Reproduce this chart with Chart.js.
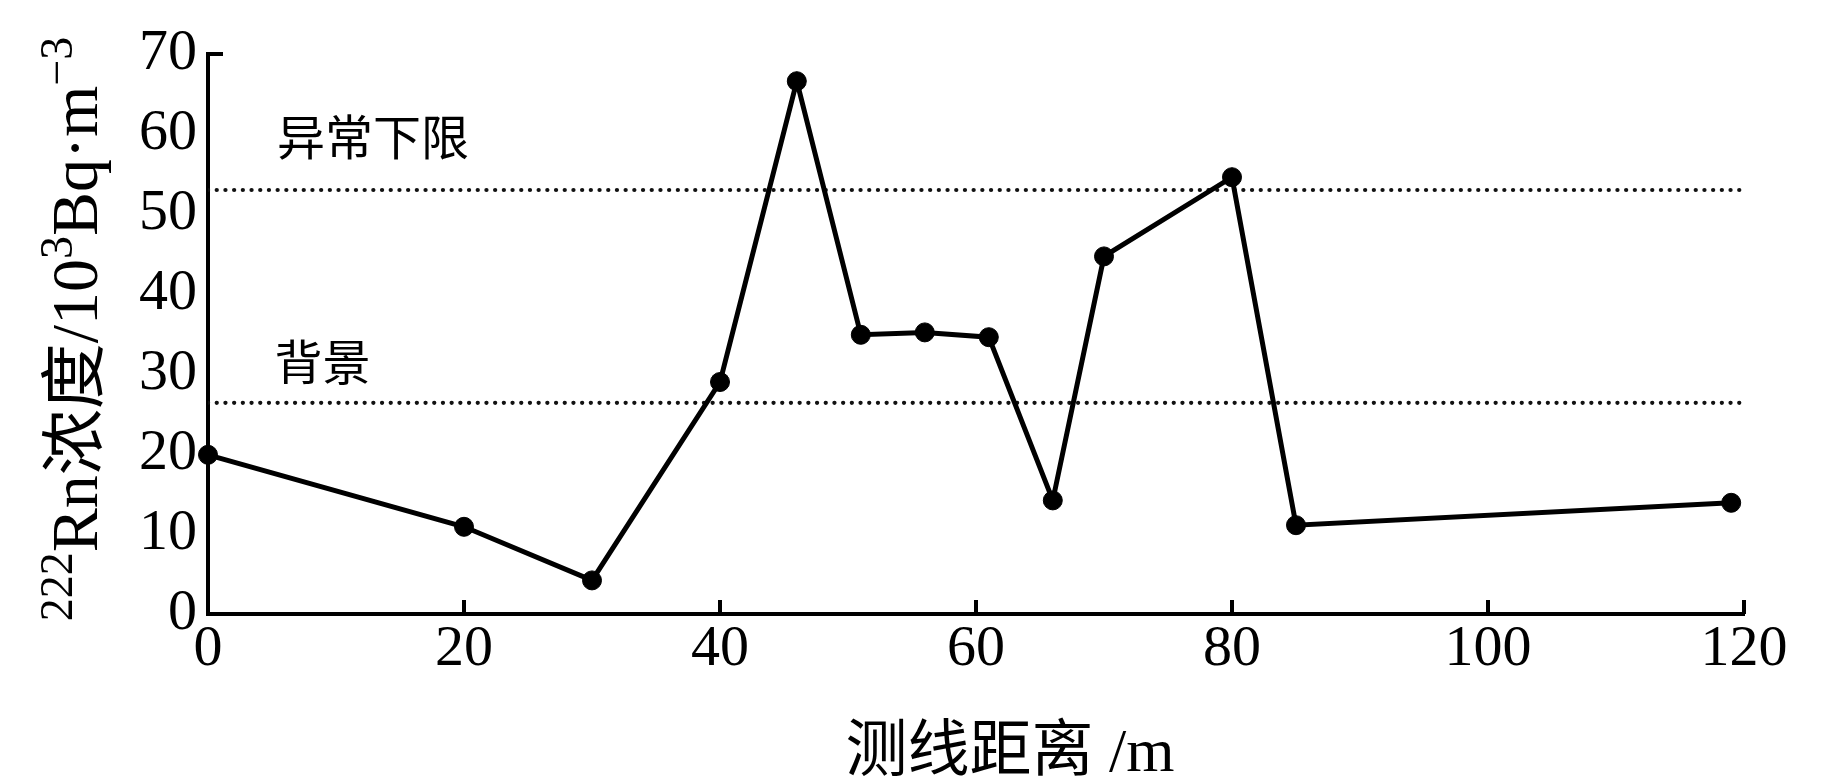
<!DOCTYPE html>
<html>
<head>
<meta charset="utf-8">
<script src="https://cdn.jsdelivr.net/npm/chart.js@4.4.1/dist/chart.umd.min.js"></script>
<style>
  html, body { margin: 0; padding: 0; background: #fff; }
</style>
</head>
<body>
<canvas id="rn" width="1843" height="780"></canvas>
<script>
// survey line distance (m) vs 222Rn concentration (10^3 Bq/m3)
var distance = [0, 20, 30, 40, 46, 51, 56, 61, 66, 70, 80, 85, 119];
var radon = [19.9, 10.9, 4.2, 29.0, 66.6, 34.9, 35.2, 34.6, 14.2, 44.7, 54.6, 11.1, 13.9];

// reference levels
var anomalyLimit = 53;
var backgroundLevel = 26.4;
var levelNames = ['异常下限', '背景'];

var xTicks = [0, 20, 40, 60, 80, 100, 120];
var yTicks = [0, 10, 20, 30, 40, 50, 60, 70];
var xTitle = '测线距离 /m';
// y title in pieces, true = superscript
var yTitle = [['222', true], ['Rn浓度/10', false], ['3', true], ['Bq·m', false], ['\u22123', true]];

var serif = '"Liberation Serif", "Times New Roman", "Noto Sans CJK SC", serif';
var cjk = '"Noto Sans CJK SC", sans-serif';

function pts(xs, ys) {
  return xs.map(function(x, i) { return {x: x, y: ys[i]}; });
}

var extras = {
  id: 'extras',
  afterDraw: function(chart) {
    var ctx = chart.ctx, xs = chart.scales.x, ys = chart.scales.y, area = chart.chartArea;
    ctx.save();
    ctx.strokeStyle = '#000';
    ctx.lineWidth = 4;
    // inward ticks on x axis, one at the top of y axis
    xTicks.forEach(function(v) {
      if (v === xs.min) return;
      var px = xs.getPixelForValue(v);
      ctx.beginPath(); ctx.moveTo(px, area.bottom); ctx.lineTo(px, area.bottom - 14); ctx.stroke();
    });
    var py = ys.getPixelForValue(ys.max);
    ctx.beginPath(); ctx.moveTo(area.left - 2, py); ctx.lineTo(area.left + 15, py); ctx.stroke();
    // close the corner
    ctx.fillStyle = '#000';
    ctx.fillRect(area.left - 2, area.bottom - 2, 4, 4);

    // level names
    ctx.font = '48px ' + cjk;
    ctx.textAlign = 'left';
    ctx.textBaseline = 'middle';
    ctx.fillText(levelNames[0], xs.getPixelForValue(5.4), ys.getPixelForValue(59.6));
    ctx.fillText(levelNames[1], xs.getPixelForValue(5.2), ys.getPixelForValue(31.5));

    // x title
    ctx.font = '62px ' + serif;
    ctx.textAlign = 'center';
    ctx.fillText(xTitle, 1010, 755);

    // y title, rotated, with superscripts
    var big = '66px ' + serif, small = '46px ' + serif;
    var total = 0;
    yTitle.forEach(function(p) { ctx.font = p[1] ? small : big; total += ctx.measureText(p[0]).width; });
    ctx.translate(97, 329);
    ctx.rotate(-Math.PI / 2);
    ctx.textAlign = 'left';
    ctx.textBaseline = 'alphabetic';
    var cx = -total / 2;
    yTitle.forEach(function(p) {
      ctx.font = p[1] ? small : big;
      ctx.fillText(p[0], cx, p[1] ? -25 : 0);
      cx += ctx.measureText(p[0]).width;
    });
    ctx.restore();
  }
};

new Chart(document.getElementById('rn'), {
  type: 'line',
  data: {
    datasets: [{
      data: pts(distance, radon),
      borderColor: '#000',
      backgroundColor: '#000',
      borderWidth: 5,
      pointRadius: 9.5,
      pointBorderWidth: 1,
      pointBackgroundColor: '#000',
      tension: 0,
      clip: false,
      order: 0
    }, {
      data: [{x: 0, y: anomalyLimit}, {x: 120, y: anomalyLimit}],
      borderColor: '#111',
      borderWidth: 4.2,
      borderDash: [0.1, 8.6],
      borderCapStyle: 'round',
      pointRadius: 0,
      order: 1
    }, {
      data: [{x: 0, y: backgroundLevel}, {x: 120, y: backgroundLevel}],
      borderColor: '#111',
      borderWidth: 4.2,
      borderDash: [0.1, 8.6],
      borderCapStyle: 'round',
      pointRadius: 0,
      order: 1
    }]
  },
  options: {
    responsive: false,
    animation: false,
    devicePixelRatio: 1,
    layout: { padding: { left: 0, right: 99, top: 54, bottom: 0 } },
    plugins: { legend: { display: false }, tooltip: { enabled: false } },
    scales: {
      x: {
        type: 'linear',
        min: 0, max: 120,
        afterBuildTicks: function(s) { s.ticks = xTicks.map(function(v) { return {value: v}; }); },
        afterFit: function(s) { s.height = 166; },
        grid: { drawOnChartArea: false, drawTicks: false },
        border: { display: true, color: '#000', width: 4 },
        ticks: { color: '#000', padding: 1, maxRotation: 0, font: { family: serif, size: 58 } }
      },
      y: {
        min: 0, max: 70,
        afterBuildTicks: function(s) { s.ticks = yTicks.map(function(v) { return {value: v}; }); },
        afterFit: function(s) { s.width = 208; },
        grid: { drawOnChartArea: false, drawTicks: false },
        border: { display: true, color: '#000', width: 4 },
        ticks: { color: '#000', padding: 11, font: { family: serif, size: 58 } }
      }
    }
  },
  plugins: [extras]
});
</script>
</body>
</html>
